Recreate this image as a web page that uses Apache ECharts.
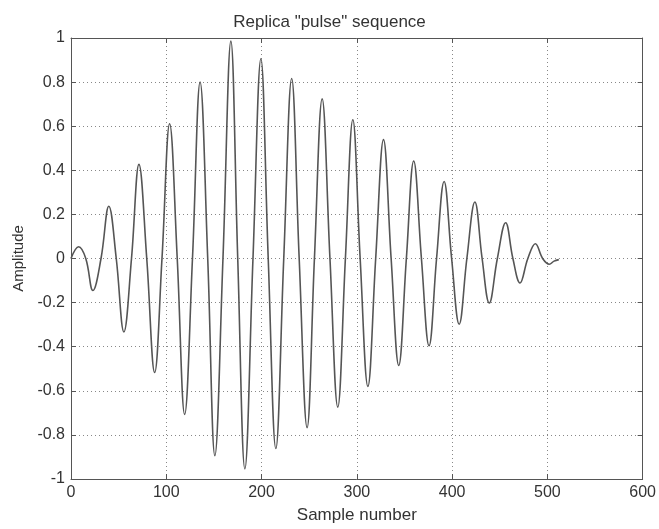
<!DOCTYPE html>
<html>
<head>
<meta charset="utf-8">
<script src="https://cdn.jsdelivr.net/npm/echarts@6/dist/echarts.min.js"></script>
<style>
html,body{margin:0;padding:0;background:#fff;}
#chart{width:659px;height:529px;}
</style>
</head>
<body>
<div id="chart"></div>
<script>
// Extrema and zero crossings
var sampleX = [0, 8, 15.5, 23, 31.5, 39.7, 47.5, 55.5, 63.5, 71.3, 79.5, 87.8, 95.5, 103.5, 111.5, 119.3, 127.5, 135.5, 143.5, 151, 159.5, 167.8, 175, 182.5, 191, 199.3, 207, 215, 223.3, 231.6, 239.5, 247.8, 255.5, 263.6, 271.8, 280, 288, 295.8, 303.5, 311.6, 319.8, 328, 336, 344, 352, 359.7, 367.8, 375.8, 383.7, 391.6, 399.5, 407.4, 415.5, 423.9, 431.5, 439, 447.5, 456.2, 463.8, 471.3, 479.5, 487.4, 495, 502, 507, 512];
var amplitude = [0, 0.053, 0, -0.145, 0, 0.237, 0, -0.333, 0, 0.427, 0, -0.517, 0, 0.611, 0, -0.707, 0, 0.80, 0, -0.894, 0, 0.986, 0, -0.954, 0, 0.906, 0, -0.862, 0, 0.816, 0, -0.767, 0, 0.724, 0, -0.674, 0, 0.629, 0, -0.58, 0, 0.539, 0, -0.485, 0, 0.442, 0, -0.396, 0, 0.349, 0, -0.298, 0, 0.256, 0, -0.202, 0, 0.162, 0, -0.111, 0, 0.067, 0, -0.026, -0.012, -0.005];
var xTicks = [0, 100, 200, 300, 400, 500, 600];
var yTicks = [-1, -0.8, -0.6, -0.4, -0.2, 0, 0.2, 0.4, 0.6, 0.8, 1];

var points = sampleX.map(function (x, i) { return [x, amplitude[i]]; });
var font = 'Liberation Sans, Arial, sans-serif';
var txt = '#333';
var boxColor = '#555';

var chart = echarts.init(document.getElementById('chart'));
chart.setOption({
  animation: false,
  backgroundColor: '#fff',
  title: {
    text: 'Replica "pulse" sequence',
    left: 'center',
    top: 9,
    textStyle: { fontFamily: font, fontSize: 17, fontWeight: 'normal', color: txt }
  },
  grid: { left: 71, right: 16, top: 38, bottom: 45, containLabel: false },
  xAxis: [{
    type: 'value', min: xTicks[0], max: xTicks[xTicks.length - 1], interval: 100,
    name: 'Sample number', nameLocation: 'middle', nameGap: 28,
    nameTextStyle: { fontFamily: font, fontSize: 17, color: txt },
    axisLine: { show: true, onZero: false, lineStyle: { color: boxColor, width: 1 } },
    axisTick: { show: true, inside: true, length: 5, lineStyle: { color: boxColor } },
    axisLabel: { fontFamily: font, fontSize: 16, color: txt, margin: 6 },
    splitLine: { show: true, lineStyle: { color: '#888', type: [1, 3], width: 1 } }
  }, {
    type: 'value', position: 'top', min: 0, max: 600, interval: 100,
    axisLine: { show: true, onZero: false, lineStyle: { color: boxColor, width: 1 } },
    axisTick: { show: true, inside: true, length: 5, lineStyle: { color: boxColor } },
    axisLabel: { show: false }, splitLine: { show: false }
  }],
  yAxis: [{
    type: 'value', min: yTicks[0], max: yTicks[yTicks.length - 1], interval: 0.2,
    name: 'Amplitude', nameLocation: 'middle', nameGap: 44, nameRotate: 90,
    nameTextStyle: { fontFamily: font, fontSize: 15, color: txt },
    axisLine: { show: true, onZero: false, lineStyle: { color: boxColor, width: 1 } },
    axisTick: { show: true, inside: true, length: 5, lineStyle: { color: boxColor } },
    axisLabel: {
      fontFamily: font, fontSize: 16, color: txt, margin: 6,
      formatter: function (v) { return String(Math.round(v * 10) / 10); }
    },
    splitLine: { show: true, lineStyle: { color: '#888', type: [1, 3], width: 1 } }
  }, {
    type: 'value', position: 'right', min: -1, max: 1, interval: 0.2,
    axisLine: { show: true, onZero: false, lineStyle: { color: boxColor, width: 1 } },
    axisTick: { show: true, inside: true, length: 5, lineStyle: { color: boxColor } },
    axisLabel: { show: false }, splitLine: { show: false }
  }],
  series: [{
    type: 'line',
    data: points,
    showSymbol: false,
    smooth: 0.4,
    lineStyle: { color: '#555', width: 1.6 },
    z: 5
  }]
});
</script>
</body>
</html>
